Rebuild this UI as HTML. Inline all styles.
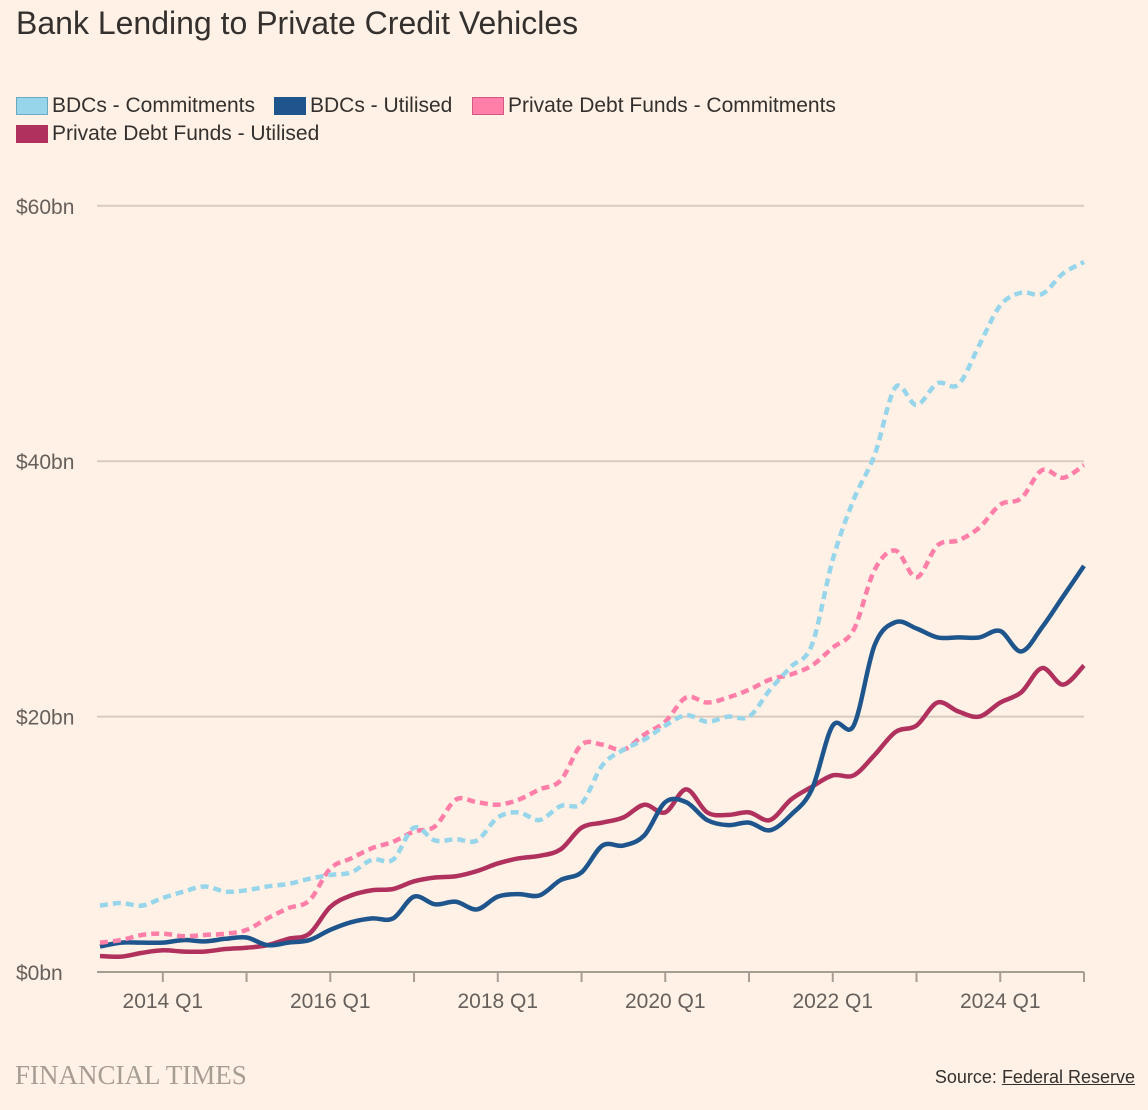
<!DOCTYPE html>
<html><head><meta charset="utf-8">
<style>
html,body{margin:0;padding:0;background:#fff1e5;}
body{width:1148px;height:1110px;position:relative;overflow:hidden;font-family:"Liberation Sans",sans-serif;color:#33302e;}
#title{position:absolute;left:16px;top:5px;font-size:32px;color:#33302e;}
.leg{position:absolute;font-size:21px;color:#33302e;display:flex;align-items:center;}
.sw{display:inline-block;width:32px;height:18px;margin-right:4px;box-sizing:border-box;}
#ft{position:absolute;left:15px;top:1060px;font-family:"Liberation Serif",serif;font-size:27px;color:#a69d95;}
#src{position:absolute;right:13px;top:1067px;font-size:18px;color:#33302e;}
#src u{text-decoration:underline;}
svg{position:absolute;left:0;top:0;}
</style></head><body>
<div id="title">Bank Lending to Private Credit Vehicles</div>
<div class="leg" style="left:16px;top:94px"><span class="sw" style="background:#96d5ea;border:1px solid #6aa9c0"></span>BDCs - Commitments</div>
<div class="leg" style="left:274px;top:94px"><span class="sw" style="background:#1e558c"></span>BDCs - Utilised</div>
<div class="leg" style="left:472px;top:94px"><span class="sw" style="background:#ff7fa9;border:1px solid #d05a85"></span>Private Debt Funds - Commitments</div>
<div class="leg" style="left:16px;top:122px"><span class="sw" style="background:#b0315d"></span>Private Debt Funds - Utilised</div>
<svg id="chart" width="1148" height="1110"></svg>
<div id="ft">FINANCIAL TIMES</div>
<div id="src">Source: <u>Federal Reserve</u></div>
<script>
const quarters = (function(){const a=[];let y=2013,q=2;for(let i=0;i<48;i++){a.push(y+' Q'+q);q++;if(q>4){q=1;y++;}}return a;})();
const bdcCommit = [5.2,5.4,5.2,5.8,6.3,6.7,6.3,6.4,6.7,6.9,7.3,7.6,7.8,8.8,8.8,11.3,10.3,10.4,10.3,12.1,12.5,11.9,13.0,13.2,16.2,17.4,18.2,19.3,20.1,19.6,20.0,20.0,22.1,23.9,25.6,32.3,37.0,40.5,45.8,44.4,46.1,46.0,49.1,52.2,53.2,53.1,54.7,55.6];
const pdfCommit = [2.3,2.5,2.9,3.0,2.8,2.9,3.0,3.3,4.2,5.0,5.6,8.1,8.9,9.7,10.2,11.0,11.4,13.5,13.3,13.1,13.5,14.3,15.0,17.8,17.8,17.4,18.6,19.6,21.5,21.1,21.5,22.1,22.9,23.3,24.0,25.4,26.8,31.5,33.0,30.9,33.4,33.8,34.8,36.6,37.1,39.3,38.7,39.7];
const bdcUtil = [2.0,2.3,2.3,2.3,2.5,2.4,2.6,2.7,2.1,2.3,2.5,3.3,3.9,4.2,4.2,5.9,5.3,5.5,4.9,5.9,6.1,6.0,7.2,7.8,9.9,9.9,10.7,13.3,13.3,11.9,11.5,11.7,11.1,12.3,14.3,19.3,19.3,25.6,27.4,26.9,26.2,26.2,26.2,26.7,25.1,27.0,29.4,31.8];
const pdfUtil = [1.25,1.2,1.5,1.7,1.6,1.6,1.8,1.9,2.1,2.6,3.0,5.1,6.0,6.4,6.5,7.1,7.4,7.5,7.9,8.5,8.9,9.1,9.6,11.3,11.7,12.1,13.1,12.5,14.3,12.5,12.3,12.5,11.9,13.5,14.5,15.4,15.4,17.0,18.8,19.3,21.1,20.4,20.0,21.1,21.9,23.8,22.5,24.0];
const yTicks = [0,20,40,60];
const yTickLabels = ['$0bn','$20bn','$40bn','$60bn'];
const xLabelQuarters = ['2014 Q1','2016 Q1','2018 Q1','2020 Q1','2022 Q1','2024 Q1'];

const NS='http://www.w3.org/2000/svg';
const svg=document.getElementById('chart');
const X0=100,X1=1084,Y0=972,PXBN=12.77;
function xs(i){return X0+(X1-X0)*i/(quarters.length-1);}
function ys(v){return Y0-v*PXBN;}
function mk(t,attrs){const e=document.createElementNS(NS,t);for(const k in attrs)e.setAttribute(k,attrs[k]);svg.appendChild(e);return e;}

yTicks.forEach((v,k)=>{
  if(v>0){const g=mk('line',{x1:97,x2:X1,y1:ys(v),y2:ys(v),stroke:'#d9cbbf','stroke-width':2});
  
  }
  const t=mk('text',{x:16,y:ys(v)+8,'font-size':21,fill:'#66605c','font-family':'Liberation Sans, sans-serif'});
  t.textContent=yTickLabels[k];
  
  
});
const ax=mk('line',{x1:97,x2:X1,y1:Y0,y2:Y0,stroke:'#a69d95','stroke-width':2});


quarters.forEach((q,i)=>{
  if(q.endsWith('Q1')){
    const tk=mk('line',{x1:xs(i),x2:xs(i),y1:Y0,y2:Y0+10,stroke:'#a69d95','stroke-width':2});
    
    
  }
  if(xLabelQuarters.indexOf(q)>=0){
    const t=mk('text',{x:xs(i),y:Y0+36,'font-size':21,fill:'#66605c','text-anchor':'middle','font-family':'Liberation Sans, sans-serif'});
    t.textContent=q;
    
    
  }
});
function pathD(arr){
  const p=arr.map((v,i)=>[xs(i),ys(v)]);
  let d='M'+p[0][0]+','+p[0][1];
  for(let i=0;i<p.length-1;i++){
    const p0=p[Math.max(0,i-1)],p1=p[i],p2=p[i+1],p3=p[Math.min(p.length-1,i+2)];
    const c1x=p1[0]+(p2[0]-p0[0])/6,c1y=p1[1]+(p2[1]-p0[1])/6;
    const c2x=p2[0]-(p3[0]-p1[0])/6,c2y=p2[1]-(p3[1]-p1[1])/6;
    d+=' C'+c1x+','+c1y+' '+c2x+','+c2y+' '+p2[0]+','+p2[1];
  }
  return d;
}
function line(arr,color,dash,name){
  const attrs={d:pathD(arr),fill:'none',stroke:color,'stroke-width':4.5,'stroke-linejoin':'round'};
  if(dash)attrs['stroke-dasharray']='8 5';
  const e=mk('path',attrs);
  
  
}
line(pdfUtil,'#b0315d',false,'line-pdf-utilised');
line(bdcUtil,'#1e558c',false,'line-bdc-utilised');
line(pdfCommit,'#ff7fa9',true,'line-pdf-commitments');
line(bdcCommit,'#96d5ea',true,'line-bdc-commitments');
</script>
</body></html>
